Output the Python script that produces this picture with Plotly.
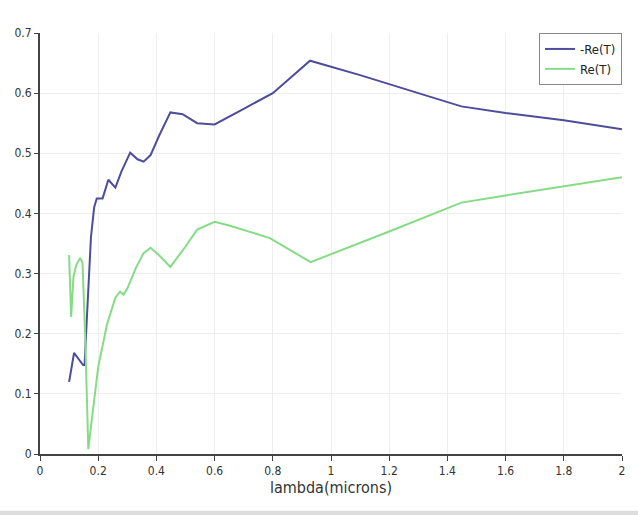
import plotly.graph_objects as go

# -Re(T) series
blue_x = [0.1, 0.117, 0.148, 0.153, 0.175, 0.186, 0.195, 0.215, 0.235, 0.259, 0.28, 0.31,
          0.335, 0.356, 0.38, 0.41, 0.448, 0.49, 0.54, 0.6, 0.7, 0.8, 0.928, 1.1, 1.3,
          1.448, 1.6, 1.8, 2.0]
blue_y = [0.12, 0.168, 0.148, 0.148, 0.36, 0.41, 0.425, 0.425, 0.456, 0.443, 0.47, 0.501,
          0.49, 0.486, 0.497, 0.53, 0.568, 0.565, 0.55, 0.548, 0.574, 0.6, 0.654, 0.63, 0.6,
          0.578, 0.567, 0.555, 0.54]

# Re(T) series
green_x = [0.1, 0.107, 0.115, 0.125, 0.138, 0.146, 0.155, 0.166, 0.18, 0.2, 0.23, 0.259,
           0.275, 0.287, 0.3, 0.33, 0.356, 0.38, 0.41, 0.448, 0.5, 0.54, 0.6, 0.65, 0.79,
           0.93, 1.2, 1.448, 1.6, 1.8, 2.0]
green_y = [0.331, 0.228, 0.295, 0.315, 0.326, 0.318, 0.2, 0.008, 0.065, 0.145, 0.215, 0.26,
           0.27, 0.265, 0.275, 0.31, 0.334, 0.343, 0.33, 0.311, 0.345, 0.373, 0.386, 0.38,
           0.359, 0.319, 0.37, 0.418, 0.43, 0.445, 0.46]

x_ticks = [0, 0.2, 0.4, 0.6, 0.8, 1, 1.2, 1.4, 1.6, 1.8, 2]
x_tick_labels = ["0", "0.2", "0.4", "0.6", "0.8", "1", "1.2", "1.4", "1.6", "1.8", "2"]
y_ticks = [0, 0.1, 0.2, 0.3, 0.4, 0.5, 0.6, 0.7]
y_tick_labels = ["0", "0.1", "0.2", "0.3", "0.4", "0.5", "0.6", "0.7"]

font_family = "Liberation Sans Narrow, DejaVu Sans Condensed, Arial, sans-serif"

fig = go.Figure()
fig.add_trace(go.Scatter(x=blue_x, y=blue_y, mode="lines", name="-Re(T)",
                         line=dict(color="#4d4d9c", width=2)))
fig.add_trace(go.Scatter(x=green_x, y=green_y, mode="lines", name="Re(T)",
                         line=dict(color="#86dc86", width=2)))

fig.update_layout(
    width=638, height=516,
    margin=dict(l=40, r=16, t=33, b=62),
    paper_bgcolor="white", plot_bgcolor="white",
    font=dict(family=font_family, size=12, color="#333333"),
    showlegend=True,
    legend=dict(x=1.0, y=1.0, xanchor="right", yanchor="top",
                bordercolor="#888888", borderwidth=1, bgcolor="white",
                font=dict(size=13, color="#222222"),
                tracegroupgap=0, itemwidth=30),
    xaxis=dict(range=[0, 2], tickvals=x_ticks, ticktext=x_tick_labels,
               showline=True, linecolor="#444444", linewidth=2,
               ticks="outside", ticklen=5, tickcolor="#444444",
               showgrid=True, gridcolor="#eeeeee", zeroline=False,
               title=dict(text="lambda(microns)", font=dict(size=16, color="#333333"), standoff=4)),
    yaxis=dict(range=[0, 0.7], tickvals=y_ticks, ticktext=y_tick_labels,
               showline=True, linecolor="#444444", linewidth=2,
               ticks="outside", ticklen=4, tickcolor="#444444",
               showgrid=True, gridcolor="#eeeeee", zeroline=False),
)

# light frame strip at the bottom of the picture
fig.add_shape(type="rect", xref="paper", yref="paper", x0=-0.07, x1=1.03,
              y0=-0.145, y1=-0.135, line=dict(width=0), fillcolor="#dddddd", layer="below")

fig.write_html("out.html")
